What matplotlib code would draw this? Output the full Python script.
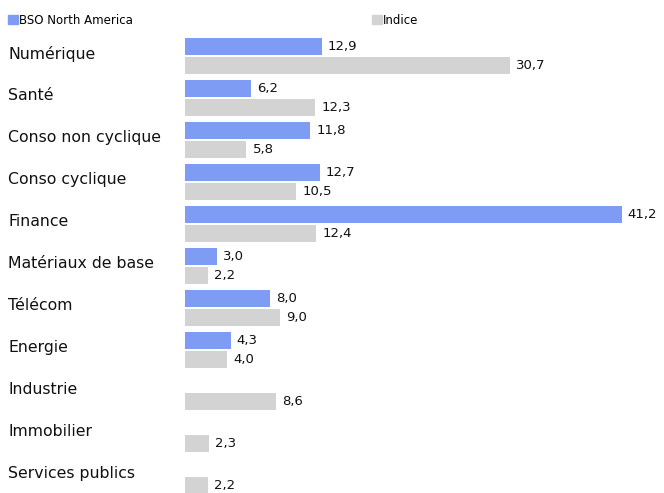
#!/usr/bin/env python3

import numpy as np
import matplotlib
matplotlib.use('Agg')
import matplotlib.pyplot as plt
from matplotlib.patches import Patch

categories = ['Numérique', 'Santé', 'Conso non cyclique', 'Conso cyclique', 'Finance',
              'Matériaux de base', 'Télécom', 'Energie', 'Industrie', 'Immobilier',
              'Services publics']
bso = [12.9, 6.2, 11.8, 12.7, 41.2, 3.0, 8.0, 4.3, None, None, None]
indice = [30.7, 12.3, 5.8, 10.5, 12.4, 2.2, 9.0, 4.0, 8.6, 2.3, 2.2]

blue = '#7f9cf5'
grey = '#d3d3d3'

W, H = 664, 493
fig = plt.figure(figsize=(W / 100, H / 100), dpi=100)
# axes in pixel terms: left 185, top 35, right edge of figure, bottom of figure
ax = fig.add_axes([185 / W, 0, 1 - 185 / W, 1 - 35 / H])

y = np.arange(len(categories))
off = 0.226
h = 0.405

fmt = lambda v: ('%.1f' % v).replace('.', ',')

for i, (b, g) in enumerate(zip(bso, indice)):
    if b is not None:
        ax.barh(y[i] - off, b, height=h, color=blue)
        ax.annotate(fmt(b), xy=(b, y[i] - off), xytext=(6, 0), textcoords='offset pixels',
                    va='center', ha='left', fontsize=9.5, color='#111111')
    ax.barh(y[i] + off, g, height=h, color=grey)
    ax.annotate(fmt(g), xy=(g, y[i] + off), xytext=(6, 0), textcoords='offset pixels',
                va='center', ha='left', fontsize=9.5, color='#111111')

ax.set_xlim(0, 479 / 10.6)
ax.set_ylim((493 - 56) / 42, -0.5)
ax.axis('off')

# category labels to the left of the axes
for i, c in enumerate(categories):
    ax.annotate(c, xy=(0, y[i] - 0.05), xycoords=('axes fraction', 'data'),
                xytext=(-177, 0), textcoords='offset pixels',
                va='center', ha='left', fontsize=11.3, color='#111111')

legend_kw = dict(loc='center left', frameon=False, fontsize=8.5, handlelength=0.85,
                 handleheight=0.7, handletextpad=0.1, borderpad=0, borderaxespad=0)
fig.legend(handles=[Patch(color=blue)], labels=['BSO North America'],
           bbox_to_anchor=(8 / W, 1 - 20 / H), **legend_kw)
fig.legend(handles=[Patch(color=grey)], labels=['Indice'],
           bbox_to_anchor=(372 / W, 1 - 20 / H), **legend_kw)

fig.savefig('out.png', dpi=100)
